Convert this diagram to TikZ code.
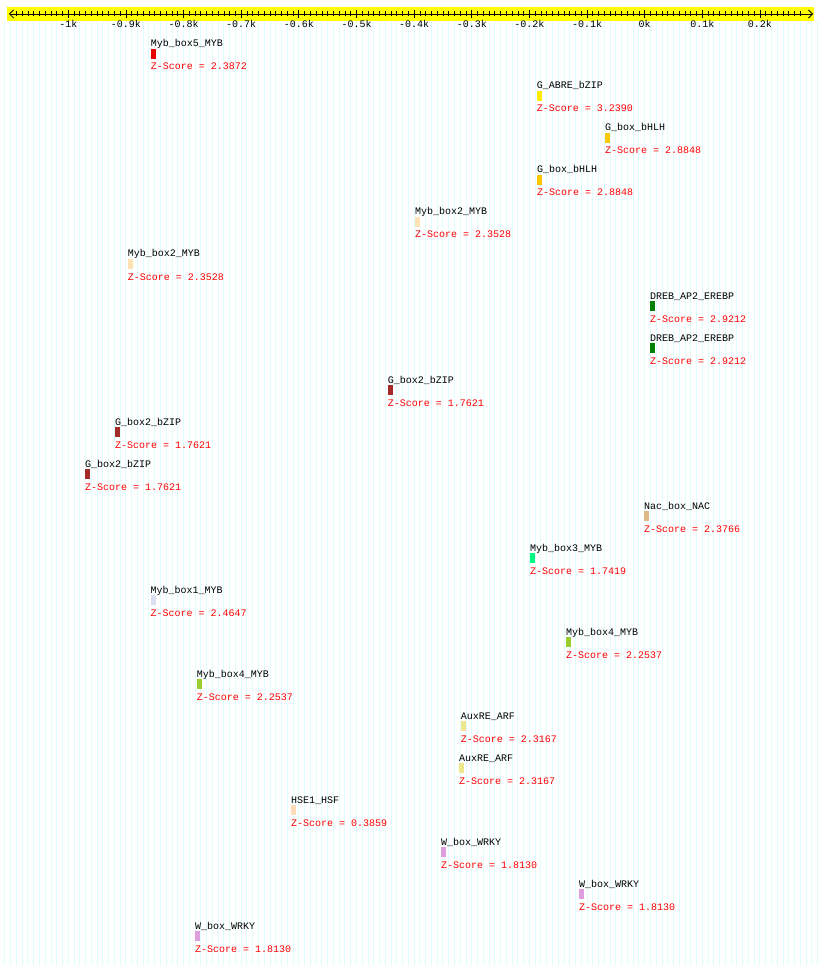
\documentclass[tikz,border=0pt]{standalone}
\usepackage{fontspec}
\setmonofont{Liberation Mono}
\usepackage{tikz}
\usetikzlibrary{arrows.meta}
\definecolor{rulerYellow}{RGB}{255,255,0}
\definecolor{stripeCyan}{RGB}{222,253,253}
\definecolor{scoreRed}{RGB}{255,0,0}
\definecolor{mybred}{RGB}{235,0,0}
\definecolor{abreyellow}{RGB}{255,235,0}
\definecolor{bhlhgold}{RGB}{250,200,0}
\definecolor{mybpeach}{RGB}{255,226,180}
\definecolor{drebgreen}{RGB}{0,128,0}
\definecolor{bzipbrown}{RGB}{165,42,42}
\definecolor{nacwood}{RGB}{222,184,135}
\definecolor{mybspring}{RGB}{0,250,127}
\definecolor{myblavender}{RGB}{222,222,240}
\definecolor{mybyellowgreen}{RGB}{154,205,50}
\definecolor{arfkhaki}{RGB}{240,230,140}
\definecolor{hsfpeach}{RGB}{255,220,185}
\definecolor{wrkyplum}{RGB}{221,160,221}

\begin{document}
\begin{tikzpicture}[
        x=1pt, y=-1pt,
        mono/.style={font=\ttfamily\fontsize{10}{10}\selectfont, inner sep=0pt},
        motifname/.style={mono, text=black, anchor=base west},
        zscore/.style={mono, text=scoreRed, anchor=base west},
        hitbox/.style={rectangle, draw=none, fill=#1, inner sep=0pt,
            minimum width=5pt, minimum height=10pt, anchor=north west},
        ticklabel/.style={mono, anchor=base}
    ]
        \useasboundingbox[fill=white] (0,0) rectangle (820,965);
        % background stripes
        \foreach \s in {-111,...,30}
            \draw[stripeCyan, line width=1pt] (644.7+\s*5.764,21) -- (644.7+\s*5.764,965);
        % ruler
        \fill[rulerYellow] (7,7.3) rectangle (814,20.7);
        \coordinate (rulerL) at (9,14);
        \coordinate (rulerR) at (813,14);
        \draw[{Straight Barb[length=4pt,width=8pt]}-{Straight Barb[length=4pt,width=8pt]}, line width=0.8pt] (rulerL) -- (rulerR);
        \foreach \t in {-109,...,27}
            \draw[line width=0.8pt] (644.7+\t*5.764,11.5) -- ++(0,5);
        \foreach \t/\lb [count=\k] in {-10/-1k,-9/-0.9k,-8/-0.8k,-7/-0.7k,-6/-0.6k,-5/-0.5k,
                -4/-0.4k,-3/-0.3k,-2/-0.2k,-1/-0.1k,0/0k,1/0.1k,2/0.2k} {
            \draw[line width=0.8pt] (644.7+\t*57.64,10) -- ++(0,8);
            \node[ticklabel] (tick\k) at (644.7+\t*57.64,27.5) {\lb};
        }
        % motif hits
        \foreach \nm/\px/\col/\sc [count=\i, evaluate=\i as \b using {5+42*\i}] in {
                Myb\_box5\_MYB/150.7/mybred/2.3872,
                G\_ABRE\_bZIP/536.7/abreyellow/3.2390,
                G\_box\_bHLH/605/bhlhgold/2.8848,
                G\_box\_bHLH/537/bhlhgold/2.8848,
                Myb\_box2\_MYB/415/mybpeach/2.3528,
                Myb\_box2\_MYB/127.7/mybpeach/2.3528,
                DREB\_AP2\_EREBP/650/drebgreen/2.9212,
                DREB\_AP2\_EREBP/650/drebgreen/2.9212,
                G\_box2\_bZIP/387.7/bzipbrown/1.7621,
                G\_box2\_bZIP/115/bzipbrown/1.7621,
                G\_box2\_bZIP/85/bzipbrown/1.7621,
                Nac\_box\_NAC/644/nacwood/2.3766,
                Myb\_box3\_MYB/530/mybspring/1.7419,
                Myb\_box1\_MYB/150.5/myblavender/2.4647,
                Myb\_box4\_MYB/566/mybyellowgreen/2.2537,
                Myb\_box4\_MYB/196.7/mybyellowgreen/2.2537,
                AuxRE\_ARF/460.7/arfkhaki/2.3167,
                AuxRE\_ARF/459/arfkhaki/2.3167,
                HSE1\_HSF/291/hsfpeach/0.3859,
                W\_box\_WRKY/441/wrkyplum/1.8130,
                W\_box\_WRKY/579/wrkyplum/1.8130,
                W\_box\_WRKY/195/wrkyplum/1.8130} {
            \node[motifname] (name\i) at (\px,\b) {\nm};
            \node[hitbox=\col] (hit\i) at (\px,\b+2) {};
            \node[zscore] (score\i) at (\px,\b+23) {Z-Score = \sc};
        }
    \end{tikzpicture}
\end{document}
